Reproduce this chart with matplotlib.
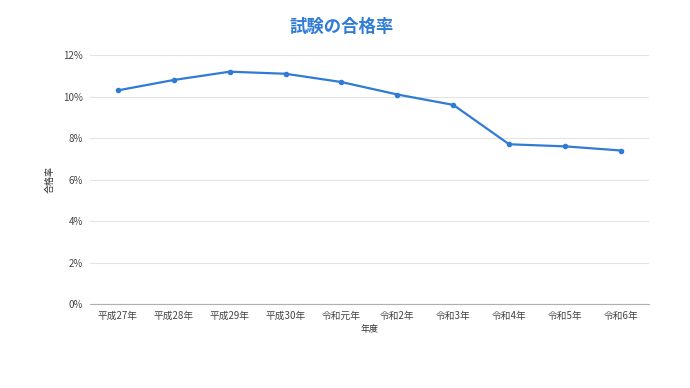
import matplotlib
matplotlib.use("Agg")
import matplotlib.pyplot as plt
from matplotlib.ticker import FuncFormatter

plt.rcParams['font.family'] = ['Noto Sans CJK JP', 'DejaVu Sans']

years = ["平成27年", "平成28年", "平成29年", "平成30年", "令和元年",
         "令和2年", "令和3年", "令和4年", "令和5年", "令和6年"]
pass_rate = [10.3, 10.8, 11.2, 11.1, 10.7, 10.1, 9.6, 7.7, 7.6, 7.4]
y_ticks = [0, 2, 4, 6, 8, 10, 12]

blue = "#2f7bd5"

fig = plt.figure(figsize=(6.9, 3.88), dpi=100)
ax = fig.add_axes([0.1304, 0.2165, 0.81, 0.6415])

x = list(range(len(years)))
ax.plot(x, pass_rate, color=blue, linewidth=1.6, marker="o", markersize=3)

ax.set_xlim(-0.5, len(years) - 0.5)
ax.set_ylim(0, 12)
ax.set_yticks(y_ticks)
ax.yaxis.set_major_formatter(FuncFormatter(lambda v, p: f"{v:.0f}%"))
ax.set_xticks(x)
ax.set_xticklabels(years)

ax.grid(axis="y", color="#e3e3e3", linewidth=0.8)
ax.set_axisbelow(True)
for s in ["top", "right", "left"]:
    ax.spines[s].set_visible(False)
ax.spines["bottom"].set_color("#b0b0b0")
ax.tick_params(axis="both", length=0, labelsize=7, colors="#444444", pad=5)

ax.set_xlabel("年度", fontsize=6.5, color="#333333", labelpad=3)
ax.set_ylabel("合格率", fontsize=6.5, color="#333333", labelpad=6)

fig.suptitle("試験の合格率", x=0.495, y=0.955, fontsize=12.5, fontweight="bold", color=blue)

fig.savefig("out.png", dpi=100)
